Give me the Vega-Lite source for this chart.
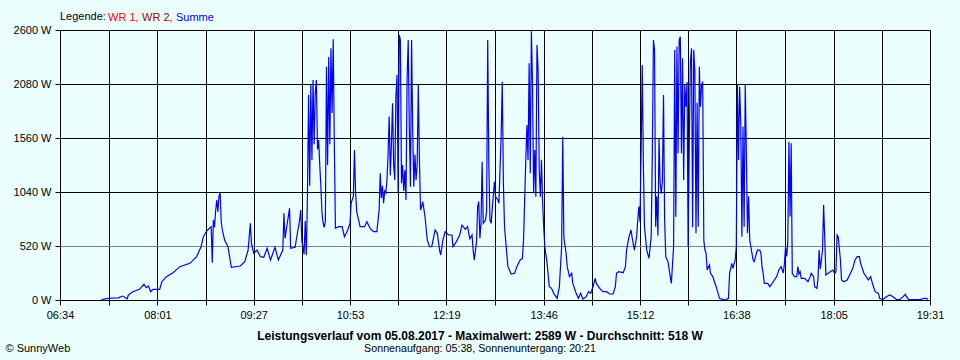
{
  "$schema": "https://vega.github.io/schema/vega-lite/v6.json",
  "width": 870,
  "height": 270,
  "autosize": {"type": "none"},
  "padding": {"left": 60, "top": 30, "right": 30, "bottom": 60},
  "background": "#EBFFFF",
  "config": {
    "view": {"stroke": null},
    "font": "Liberation Sans",
    "axis": {"domainColor": "black", "tickColor": "black", "labelColor": "black", "labelFontSize": 11, "gridOpacity": 1, "gridWidth": 1, "tickSize": 5, "titleColor": "black"}
  },
  "title": {
    "text": "Leistungsverlauf vom 05.08.2017 - Maximalwert: 2589 W - Durchschnitt: 518 W",
    "subtitle": "Sonnenaufgang: 05:38, Sonnenuntergang: 20:21",
    "orient": "bottom", "anchor": "middle", "frame": "group", "dx": -15, "offset": -22,
    "fontSize": 12, "fontWeight": "bold", "color": "black",
    "subtitleFontSize": 10.7, "subtitleColor": "black", "subtitlePadding": 1
  },
  "data": {
    "values": [
      {"t":"07:11","w":5},{"t":"07:17","w":15},{"t":"07:19","w":18},{"t":"07:26","w":20},{"t":"07:30","w":38},{"t":"07:34","w":12},{"t":"07:35","w":48},{"t":"07:39","w":80},{"t":"07:45","w":103},{"t":"07:49","w":151},{"t":"07:51","w":118},{"t":"07:53","w":135},{"t":"07:55","w":80},{"t":"07:57","w":103},{"t":"08:03","w":103},{"t":"08:05","w":176},{"t":"08:09","w":225},{"t":"08:15","w":263},{"t":"08:21","w":321},{"t":"08:30","w":353},{"t":"08:36","w":417},{"t":"08:40","w":513},{"t":"08:42","w":610},{"t":"08:45","w":664},{"t":"08:49","w":706},{"t":"08:50","w":359},{"t":"08:51","w":770},{"t":"08:52","w":700},{"t":"08:53","w":860},{"t":"08:54","w":963},{"t":"08:55","w":850},{"t":"08:56","w":1000},{"t":"08:57","w":1033},{"t":"08:58","w":750},{"t":"08:59","w":674},{"t":"09:01","w":578},{"t":"09:04","w":513},{"t":"09:07","w":315},{"t":"09:15","w":327},{"t":"09:19","w":369},{"t":"09:22","w":481},{"t":"09:24","w":739},{"t":"09:25","w":546},{"t":"09:27","w":450},{"t":"09:30","w":481},{"t":"09:33","w":417},{"t":"09:36","w":411},{"t":"09:39","w":498},{"t":"09:42","w":385},{"t":"09:46","w":507},{"t":"09:49","w":385},{"t":"09:53","w":481},{"t":"09:54","w":835},{"t":"09:55","w":594},{"t":"09:57","w":739},{"t":"09:59","w":883},{"t":"10:00","w":498},{"t":"10:04","w":507},{"t":"10:05","w":578},{"t":"10:08","w":770},{"t":"10:09","w":867},{"t":"10:10","w":562},
      {"t":"10:11","w":520},{"t":"10:12","w":440},{"t":"10:13","w":760},{"t":"10:14","w":430},{"t":"10:15","w":1000},{"t":"10:16","w":1974},{"t":"10:17","w":1100},{"t":"10:18","w":2070},{"t":"10:19","w":1348},{"t":"10:20","w":2119},{"t":"10:21","w":1500},{"t":"10:22","w":2000},{"t":"10:23","w":2119},{"t":"10:24","w":1450},{"t":"10:25","w":1541},{"t":"10:26","w":1300},{"t":"10:27","w":1091},{"t":"10:28","w":835},{"t":"10:29","w":739},{"t":"10:30","w":700},{"t":"10:31","w":760},{"t":"10:32","w":2247},{"t":"10:33","w":1300},{"t":"10:34","w":2340},{"t":"10:35","w":1500},{"t":"10:36","w":2424},{"t":"10:37","w":1800},{"t":"10:38","w":2510},{"t":"10:39","w":1509},{"t":"10:40","w":693},{"t":"10:43","w":706},{"t":"10:46","w":706},{"t":"10:48","w":610},{"t":"10:51","w":674},{"t":"10:53","w":739},{"t":"10:54","w":931},{"t":"10:56","w":1000},{"t":"10:57","w":1445},{"t":"10:58","w":1030},{"t":"10:59","w":851},{"t":"11:02","w":706},{"t":"11:06","w":706},{"t":"11:08","w":754},{"t":"11:11","w":690},{"t":"11:14","w":658},{"t":"11:17","w":658},
      {"t":"11:19","w":867},{"t":"11:20","w":1220},{"t":"11:21","w":980},{"t":"11:22","w":1100},{"t":"11:23","w":931},{"t":"11:24","w":1050},{"t":"11:25","w":1030},{"t":"11:26","w":1156},{"t":"11:27","w":1400},{"t":"11:28","w":1766},{"t":"11:29","w":1200},{"t":"11:30","w":1500},{"t":"11:31","w":1894},{"t":"11:32","w":1300},{"t":"11:33","w":1156},{"t":"11:34","w":1958},{"t":"11:35","w":2167},{"t":"11:36","w":1043},{"t":"11:37","w":2552},{"t":"11:38","w":2504},{"t":"11:39","w":1124},{"t":"11:40","w":1300},{"t":"11:41","w":1050},{"t":"11:42","w":1250},{"t":"11:43","w":963},{"t":"11:44","w":2135},{"t":"11:45","w":2504},{"t":"11:46","w":1637},{"t":"11:47","w":1091},{"t":"11:48","w":2504},{"t":"11:49","w":1637},{"t":"11:50","w":1091},{"t":"11:51","w":1400},{"t":"11:52","w":1156},{"t":"11:53","w":1300},{"t":"11:54","w":2070},{"t":"11:55","w":1348},{"t":"11:56","w":867},{"t":"11:57","w":900},{"t":"11:58","w":947},{"t":"12:00","w":802},{"t":"12:02","w":578},{"t":"12:04","w":513},{"t":"12:06","w":513},{"t":"12:09","w":674},{"t":"12:11","w":642},{"t":"12:13","w":481},{"t":"12:14","w":433},{"t":"12:16","w":578},{"t":"12:18","w":658},{"t":"12:21","w":626},{"t":"12:24","w":626},{"t":"12:25","w":513},{"t":"12:28","w":562},{"t":"12:31","w":626},{"t":"12:33","w":722},{"t":"12:36","w":680},{"t":"12:38","w":706},{"t":"12:40","w":590},{"t":"12:42","w":626},{"t":"12:43","w":480},{"t":"12:44","w":385},{"t":"12:46","w":560},{"t":"12:47","w":899},{"t":"12:48","w":947},{"t":"12:49","w":594},{"t":"12:50","w":738},{"t":"12:51","w":1332},{"t":"12:52","w":738},{"t":"12:54","w":770},{"t":"12:55","w":851},{"t":"12:56","w":2504},{"t":"12:57","w":1300},{"t":"12:58","w":770},{"t":"12:59","w":738},{"t":"13:02","w":1139},{"t":"13:03","w":995},{"t":"13:05","w":963},{"t":"13:06","w":931},{"t":"13:08","w":1589},{"t":"13:09","w":2102},{"t":"13:10","w":1124},{"t":"13:11","w":706},{"t":"13:13","w":450},{"t":"13:14","w":321},{"t":"13:17","w":250},{"t":"13:20","w":257},{"t":"13:22","w":321},{"t":"13:25","w":385},{"t":"13:27","w":401},{"t":"13:28","w":578},
      {"t":"13:30","w":1348},{"t":"13:31","w":1685},{"t":"13:32","w":1348},{"t":"13:33","w":2279},{"t":"13:34","w":1220},{"t":"13:35","w":2589},{"t":"13:36","w":2087},{"t":"13:37","w":1027},{"t":"13:38","w":1445},{"t":"13:39","w":995},{"t":"13:40","w":2456},{"t":"13:41","w":2215},{"t":"13:42","w":1252},{"t":"13:43","w":995},{"t":"13:44","w":1350},{"t":"13:45","w":947},{"t":"13:46","w":706},{"t":"13:47","w":513},{"t":"13:49","w":353},{"t":"13:51","w":128},{"t":"13:53","w":112},{"t":"13:55","w":64},{"t":"13:58","w":16},{"t":"14:00","w":128},{"t":"14:02","w":513},{"t":"14:03","w":1573},{"t":"14:04","w":600},{"t":"14:06","w":450},{"t":"14:07","w":321},{"t":"14:09","w":225},{"t":"14:11","w":257},{"t":"14:12","w":160},{"t":"14:15","w":64},{"t":"14:17","w":16},{"t":"14:19","w":64},{"t":"14:21","w":10},{"t":"14:24","w":32},{"t":"14:26","w":80},{"t":"14:28","w":64},{"t":"14:30","w":128},{"t":"14:32","w":209},{"t":"14:33","w":160},{"t":"14:36","w":112},{"t":"14:39","w":80},{"t":"14:42","w":80},{"t":"14:45","w":58},{"t":"14:48","w":58},{"t":"14:50","w":128},{"t":"14:51","w":257},{"t":"14:53","w":273},{"t":"14:57","w":263},{"t":"14:59","w":321},{"t":"15:00","w":480},{"t":"15:02","w":600},{"t":"15:04","w":674},{"t":"15:05","w":600},{"t":"15:07","w":481},{"t":"15:09","w":610},{"t":"15:10","w":770},{"t":"15:11","w":899},{"t":"15:12","w":755},
      {"t":"15:13","w":1429},{"t":"15:14","w":2263},{"t":"15:15","w":1316},{"t":"15:16","w":706},{"t":"15:18","w":481},{"t":"15:20","w":401},{"t":"15:22","w":610},{"t":"15:23","w":1396},{"t":"15:24","w":2504},{"t":"15:25","w":2408},{"t":"15:26","w":706},{"t":"15:27","w":1000},{"t":"15:28","w":620},{"t":"15:29","w":1557},{"t":"15:30","w":1124},{"t":"15:31","w":1027},{"t":"15:32","w":1150},{"t":"15:33","w":1974},{"t":"15:34","w":770},{"t":"15:35","w":417},{"t":"15:37","w":369},{"t":"15:39","w":225},{"t":"15:40","w":160},{"t":"15:42","w":513},{"t":"15:43","w":2408},{"t":"15:44","w":802},{"t":"15:45","w":2440},{"t":"15:46","w":1412},{"t":"15:47","w":2504},{"t":"15:48","w":2536},{"t":"15:49","w":1412},{"t":"15:50","w":2327},{"t":"15:51","w":1156},{"t":"15:52","w":2070},{"t":"15:53","w":1862},{"t":"15:54","w":2100},{"t":"15:55","w":513},{"t":"15:56","w":1500},{"t":"15:57","w":2295},{"t":"15:58","w":2424},{"t":"15:59","w":700},{"t":"16:00","w":2408},{"t":"16:01","w":2199},{"t":"16:02","w":642},{"t":"16:03","w":1900},{"t":"16:04","w":706},{"t":"16:05","w":2247},{"t":"16:06","w":1862},{"t":"16:07","w":2070},{"t":"16:08","w":2102},{"t":"16:09","w":578},{"t":"16:10","w":481},{"t":"16:11","w":450},{"t":"16:12","w":289},{"t":"16:14","w":337},{"t":"16:15","w":257},{"t":"16:17","w":225},{"t":"16:20","w":128},{"t":"16:23","w":16},{"t":"16:28","w":0},{"t":"16:31","w":16},{"t":"16:32","w":257},{"t":"16:34","w":353},{"t":"16:35","w":305},{"t":"16:37","w":385},{"t":"16:38","w":513},
      {"t":"16:39","w":2070},{"t":"16:40","w":1348},{"t":"16:41","w":2054},{"t":"16:42","w":1700},{"t":"16:43","w":610},{"t":"16:44","w":1669},{"t":"16:45","w":706},{"t":"16:46","w":2070},{"t":"16:47","w":1412},{"t":"16:48","w":642},{"t":"16:49","w":1000},{"t":"16:50","w":578},{"t":"16:51","w":513},{"t":"16:53","w":385},{"t":"16:54","w":369},{"t":"16:56","w":450},{"t":"16:57","w":481},{"t":"16:59","w":481},{"t":"17:00","w":450},{"t":"17:01","w":321},{"t":"17:02","w":257},{"t":"17:03","w":160},{"t":"17:06","w":160},{"t":"17:08","w":128},{"t":"17:11","w":176},{"t":"17:14","w":225},{"t":"17:16","w":289},{"t":"17:18","w":321},{"t":"17:20","w":260},{"t":"17:21","w":353},{"t":"17:22","w":513},{"t":"17:23","w":420},{"t":"17:24","w":562},{"t":"17:25","w":1525},{"t":"17:26","w":803},{"t":"17:27","w":1509},{"t":"17:28","w":257},{"t":"17:30","w":225},{"t":"17:32","w":225},{"t":"17:33","w":321},{"t":"17:34","w":250},{"t":"17:35","w":273},{"t":"17:36","w":209},{"t":"17:39","w":209},{"t":"17:42","w":176},{"t":"17:44","w":225},{"t":"17:45","w":257},{"t":"17:47","w":225},{"t":"17:48","w":128},{"t":"17:50","w":112},{"t":"17:51","w":209},{"t":"17:52","w":481},{"t":"17:53","w":300},{"t":"17:54","w":385},{"t":"17:55","w":481},{"t":"17:56","w":915},{"t":"17:57","w":600},{"t":"17:58","w":241},{"t":"18:00","w":257},{"t":"18:02","w":273},{"t":"18:04","w":289},{"t":"18:06","w":257},{"t":"18:07","w":273},{"t":"18:08","w":626},{"t":"18:09","w":610},{"t":"18:10","w":500},{"t":"18:11","w":385},{"t":"18:12","w":193},{"t":"18:14","w":176},{"t":"18:17","w":193},{"t":"18:20","w":257},{"t":"18:22","w":305},{"t":"18:24","w":385},{"t":"18:26","w":417},{"t":"18:28","w":417},{"t":"18:29","w":353},{"t":"18:32","w":257},{"t":"18:34","w":225},{"t":"18:36","w":193},{"t":"18:38","w":225},{"t":"18:40","w":144},{"t":"18:42","w":80},{"t":"18:45","w":64},{"t":"18:46","w":16},{"t":"18:49","w":5},{"t":"18:52","w":32},{"t":"18:55","w":48},{"t":"18:58","w":32},{"t":"19:01","w":5},{"t":"19:04","w":5},{"t":"19:07","w":32},{"t":"19:09","w":55},{"t":"19:10","w":32},{"t":"19:12","w":5},{"t":"19:16","w":5},{"t":"19:22","w":5},{"t":"19:26","w":16},{"t":"19:28","w":16},{"t":"19:29","w":5}
    ],
    "format": {"parse": {"t": "date:'%H:%M'"}}
  },
  "mark": {"type": "line", "strokeWidth": 1.2, "clip": true},
  "encoding": {
    "x": {
      "field": "t", "type": "temporal",
      "scale": {"domain": [{"year": 1900, "month": 1, "date": 1, "hours": 6, "minutes": 34}, {"year": 1900, "month": 1, "date": 1, "hours": 19, "minutes": 31}]},
      "axis": {
        "values": [
          {"year": 1900, "month": 1, "date": 1, "hours": 6, "minutes": 34},
          {"year": 1900, "month": 1, "date": 1, "hours": 7, "minutes": 17, "seconds": 30},
          {"year": 1900, "month": 1, "date": 1, "hours": 8, "minutes": 1},
          {"year": 1900, "month": 1, "date": 1, "hours": 8, "minutes": 44},
          {"year": 1900, "month": 1, "date": 1, "hours": 9, "minutes": 27},
          {"year": 1900, "month": 1, "date": 1, "hours": 10, "minutes": 10},
          {"year": 1900, "month": 1, "date": 1, "hours": 10, "minutes": 53},
          {"year": 1900, "month": 1, "date": 1, "hours": 11, "minutes": 36},
          {"year": 1900, "month": 1, "date": 1, "hours": 12, "minutes": 19},
          {"year": 1900, "month": 1, "date": 1, "hours": 13, "minutes": 2, "seconds": 30},
          {"year": 1900, "month": 1, "date": 1, "hours": 13, "minutes": 46},
          {"year": 1900, "month": 1, "date": 1, "hours": 14, "minutes": 29},
          {"year": 1900, "month": 1, "date": 1, "hours": 15, "minutes": 12},
          {"year": 1900, "month": 1, "date": 1, "hours": 15, "minutes": 55},
          {"year": 1900, "month": 1, "date": 1, "hours": 16, "minutes": 38},
          {"year": 1900, "month": 1, "date": 1, "hours": 17, "minutes": 21, "seconds": 30},
          {"year": 1900, "month": 1, "date": 1, "hours": 18, "minutes": 5},
          {"year": 1900, "month": 1, "date": 1, "hours": 18, "minutes": 48},
          {"year": 1900, "month": 1, "date": 1, "hours": 19, "minutes": 31}
        ],
        "labelExpr": "indexof(['06:34','08:01','09:27','10:53','12:19','13:46','15:12','16:38','18:05','19:31'], timeFormat(datum.value, '%H:%M')) >= 0 ? timeFormat(datum.value, '%H:%M') : ''",
        "grid": true, "gridColor": "black",
        "labelFlush": false, "labelOverlap": false, "labelPadding": 4,
        "title": "© SunnyWeb", "titleX": -55, "titleY": 51, "titleAlign": "left", "titleBaseline": "alphabetic",
        "titleFontWeight": "normal", "titleFontSize": 11
      }
    },
    "y": {
      "field": "w", "type": "quantitative",
      "scale": {"domain": [0, 2600], "nice": false},
      "axis": {
        "values": [0, 520, 1040, 1560, 2080, 2600],
        "labelExpr": "datum.value + ' W'",
        "grid": true,
        "gridColor": {"condition": {"test": "datum.value === 520", "value": "#808080"}, "value": "black"},
        "labelPadding": 4, "title": null
      }
    },
    "color": {
      "datum": "Summe", "type": "nominal",
      "scale": {"domain": ["WR 1,", "WR 2,", "Summe"], "range": ["#FF0000", "#A00000", "#0000FF"]},
      "legend": {
        "title": "Legende:", "orient": "none", "legendX": 0, "legendY": -18, "direction": "horizontal",
        "titleOrient": "left", "titleFontWeight": "normal", "titleFontSize": 11, "titleColor": "black", "titlePadding": 2,
        "titleBaseline": "middle",
        "symbolSize": 0, "symbolStrokeWidth": 0, "symbolOpacity": 0, "labelOffset": -11, "columnPadding": 3,
        "labelFontSize": 11,
        "encode": {"labels": {"update": {"fill": {"signal": "datum.value === 'Summe' ? '#0000FF' : datum.value === 'WR 1,' ? '#FF0000' : '#A00000'"}}}}
      }
    }
  }
}
